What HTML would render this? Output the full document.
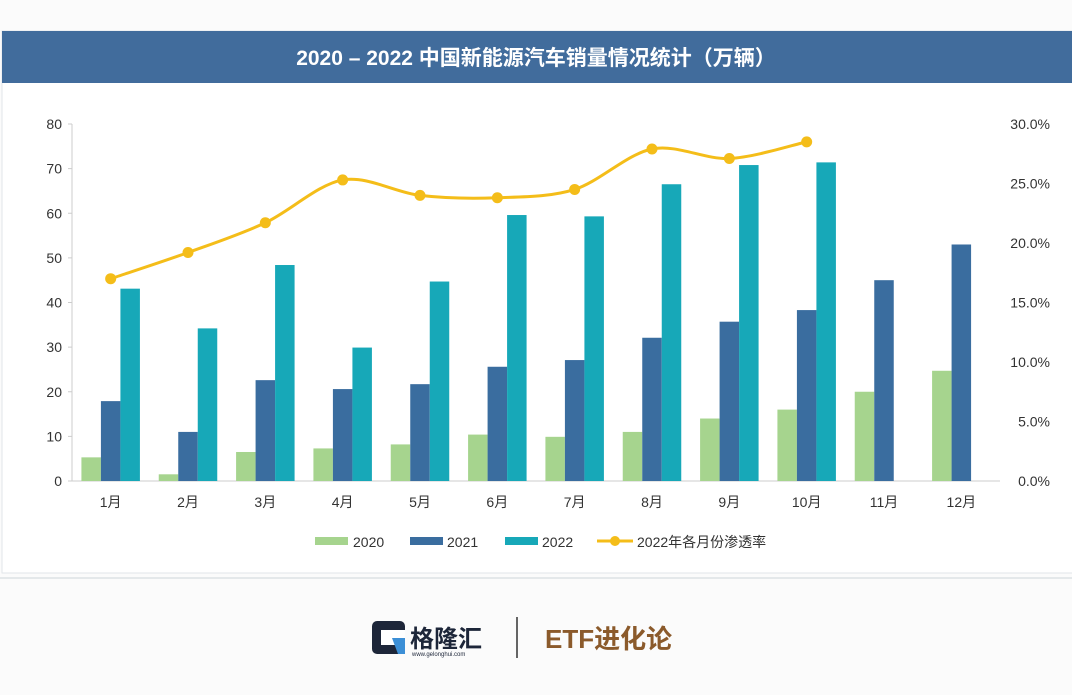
<!DOCTYPE html>
<html><head><meta charset="utf-8"><style>
body{margin:0;width:1072px;height:690px;background:#fbfbfb;overflow:hidden;font-family:"Liberation Sans","Noto Sans CJK SC",sans-serif}
</style></head><body>
<svg width="1072" height="690" xmlns="http://www.w3.org/2000/svg">
<rect x="2" y="31" width="1072" height="542" fill="#fff" stroke="#e2e6ea"/>
<rect x="2" y="31" width="1072" height="52" fill="#416c9c"/>
<text x="536" y="65" text-anchor="middle" fill="#fff" font-size="21" font-weight="bold" font-family="Liberation Sans,Noto Sans CJK SC,sans-serif">2020 – 2022 中国新能源汽车销量情况统计（万辆）</text>
<g id="axes"></g><g id="bars"></g><g id="line"></g>
<g font-size="14" fill="#333">
<rect x="315" y="537" width="33" height="8" fill="#a6d48e"/><text x="353" y="547">2020</text>
<rect x="410" y="537" width="33" height="8" fill="#3a6d9f"/><text x="447" y="547">2021</text>
<rect x="505" y="537" width="33" height="8" fill="#17a8b8"/><text x="542" y="547">2022</text>
<line x1="597" y1="541" x2="633" y2="541" stroke="#f4bd19" stroke-width="3"/><circle cx="615" cy="541" r="5" fill="#f4bd19"/><text x="637" y="547">2022年各月份渗透率</text>
</g>
<line x1="0" y1="578" x2="1072" y2="578" stroke="#e4e8ea" stroke-width="2"/>
<g>
<rect x="372" y="621" width="33" height="33" rx="5" fill="#1d2639"/><rect x="381" y="630" width="24" height="15" fill="#fff"/><polygon points="392,638 405,638 405,654 398,654" fill="#3c8fd6"/>
<text x="410" y="647" font-size="24" font-weight="bold" fill="#1d2639">格隆汇</text>
<text x="412" y="656" font-size="6" fill="#1d2639">www.gelonghui.com</text>
</g>
<line x1="517" y1="617" x2="517" y2="658" stroke="#333" stroke-width="1.5"/>
<text x="545" y="648" font-size="26" font-weight="bold" fill="#8b5a2b">ETF进化论</text>
</svg>
<script>
const categories=["1月","2月","3月","4月","5月","6月","7月","8月","9月","10月","11月","12月"];
const s2020=[5.3,1.5,6.5,7.3,8.2,10.4,9.9,11,14,16,20,24.7];
const s2021=[17.9,11,22.6,20.6,21.7,25.6,27.1,32.1,35.7,38.3,45,53];
const s2022=[43.1,34.2,48.4,29.9,44.7,59.6,59.3,66.5,70.8,71.4,null,null];
const penetration=[17.0,19.2,21.7,25.3,24.0,23.8,24.5,27.9,27.1,28.5];
const leftTicks=[0,10,20,30,40,50,60,70,80];
const rightTicks=[0,5,10,15,20,25,30];
const NS="http://www.w3.org/2000/svg";
const X0=72,X1=1000,Y0=481,Y1=124;
const band=(X1-X0)/categories.length;
const xc=i=>X0+band*(i+0.5);
const yL=v=>Y0-(v/80)*(Y0-Y1);
const yR=v=>Y0-(v/30)*(Y0-Y1);
function mk(tag,attrs,parent){const e=document.createElementNS(NS,tag);for(const k in attrs)e.setAttribute(k,attrs[k]);parent.appendChild(e);return e;}
const axes=document.getElementById('axes');
mk('line',{x1:X0,y1:Y1,x2:X0,y2:Y0,stroke:'#ccc'},axes);
mk('line',{x1:X0,y1:Y0,x2:X1,y2:Y0,stroke:'#ccc'},axes);
leftTicks.forEach(t=>{const y=yL(t);mk('line',{x1:X0-4,y1:y,x2:X0,y2:y,stroke:'#ccc'},axes);
const tx=mk('text',{x:62,y:y+5,'text-anchor':'end','font-size':14,fill:'#333'},axes);tx.textContent=t;

});
rightTicks.forEach(t=>{const y=yR(t);
const tx=mk('text',{x:1050,y:y+5,'text-anchor':'end','font-size':14,fill:'#333'},axes);tx.textContent=t.toFixed(1)+'%';

});
categories.forEach((c,i)=>{const tx=mk('text',{x:xc(i),y:507,'text-anchor':'middle','font-size':14,fill:'#333'},axes);tx.textContent=c;

});
const bars=document.getElementById('bars');const bw=19.5;
[[s2020,'#a6d48e','2020'],[s2021,'#3a6d9f','2021'],[s2022,'#17a8b8','2022']].forEach(([s,col,n],k)=>{
s.forEach((v,i)=>{if(v==null)return;const x=xc(i)-1.5*bw+k*bw;
const r=mk('rect',{x:x,y:yL(v),width:bw,height:Y0-yL(v),fill:col},bars);

});});
const lg=document.getElementById('line');
const pts=penetration.map((v,i)=>[xc(i),yR(v)]);
let d='M'+pts[0];
for(let i=0;i<pts.length-1;i++){const p0=pts[i-1]||pts[i],p1=pts[i],p2=pts[i+1],p3=pts[i+2]||p2;const t=0.16;
d+=` C${p1[0]+(p2[0]-p0[0])*t},${p1[1]+(p2[1]-p0[1])*t} ${p2[0]-(p3[0]-p1[0])*t},${p2[1]-(p3[1]-p1[1])*t} ${p2[0]},${p2[1]}`;}
const path=mk('path',{d:d,fill:'none',stroke:'#f4bd19','stroke-width':3},lg);


pts.forEach(p=>{const c=mk('circle',{cx:p[0],cy:p[1],r:5.5,fill:'#f4bd19'},lg);

});
</script>
</body></html>
